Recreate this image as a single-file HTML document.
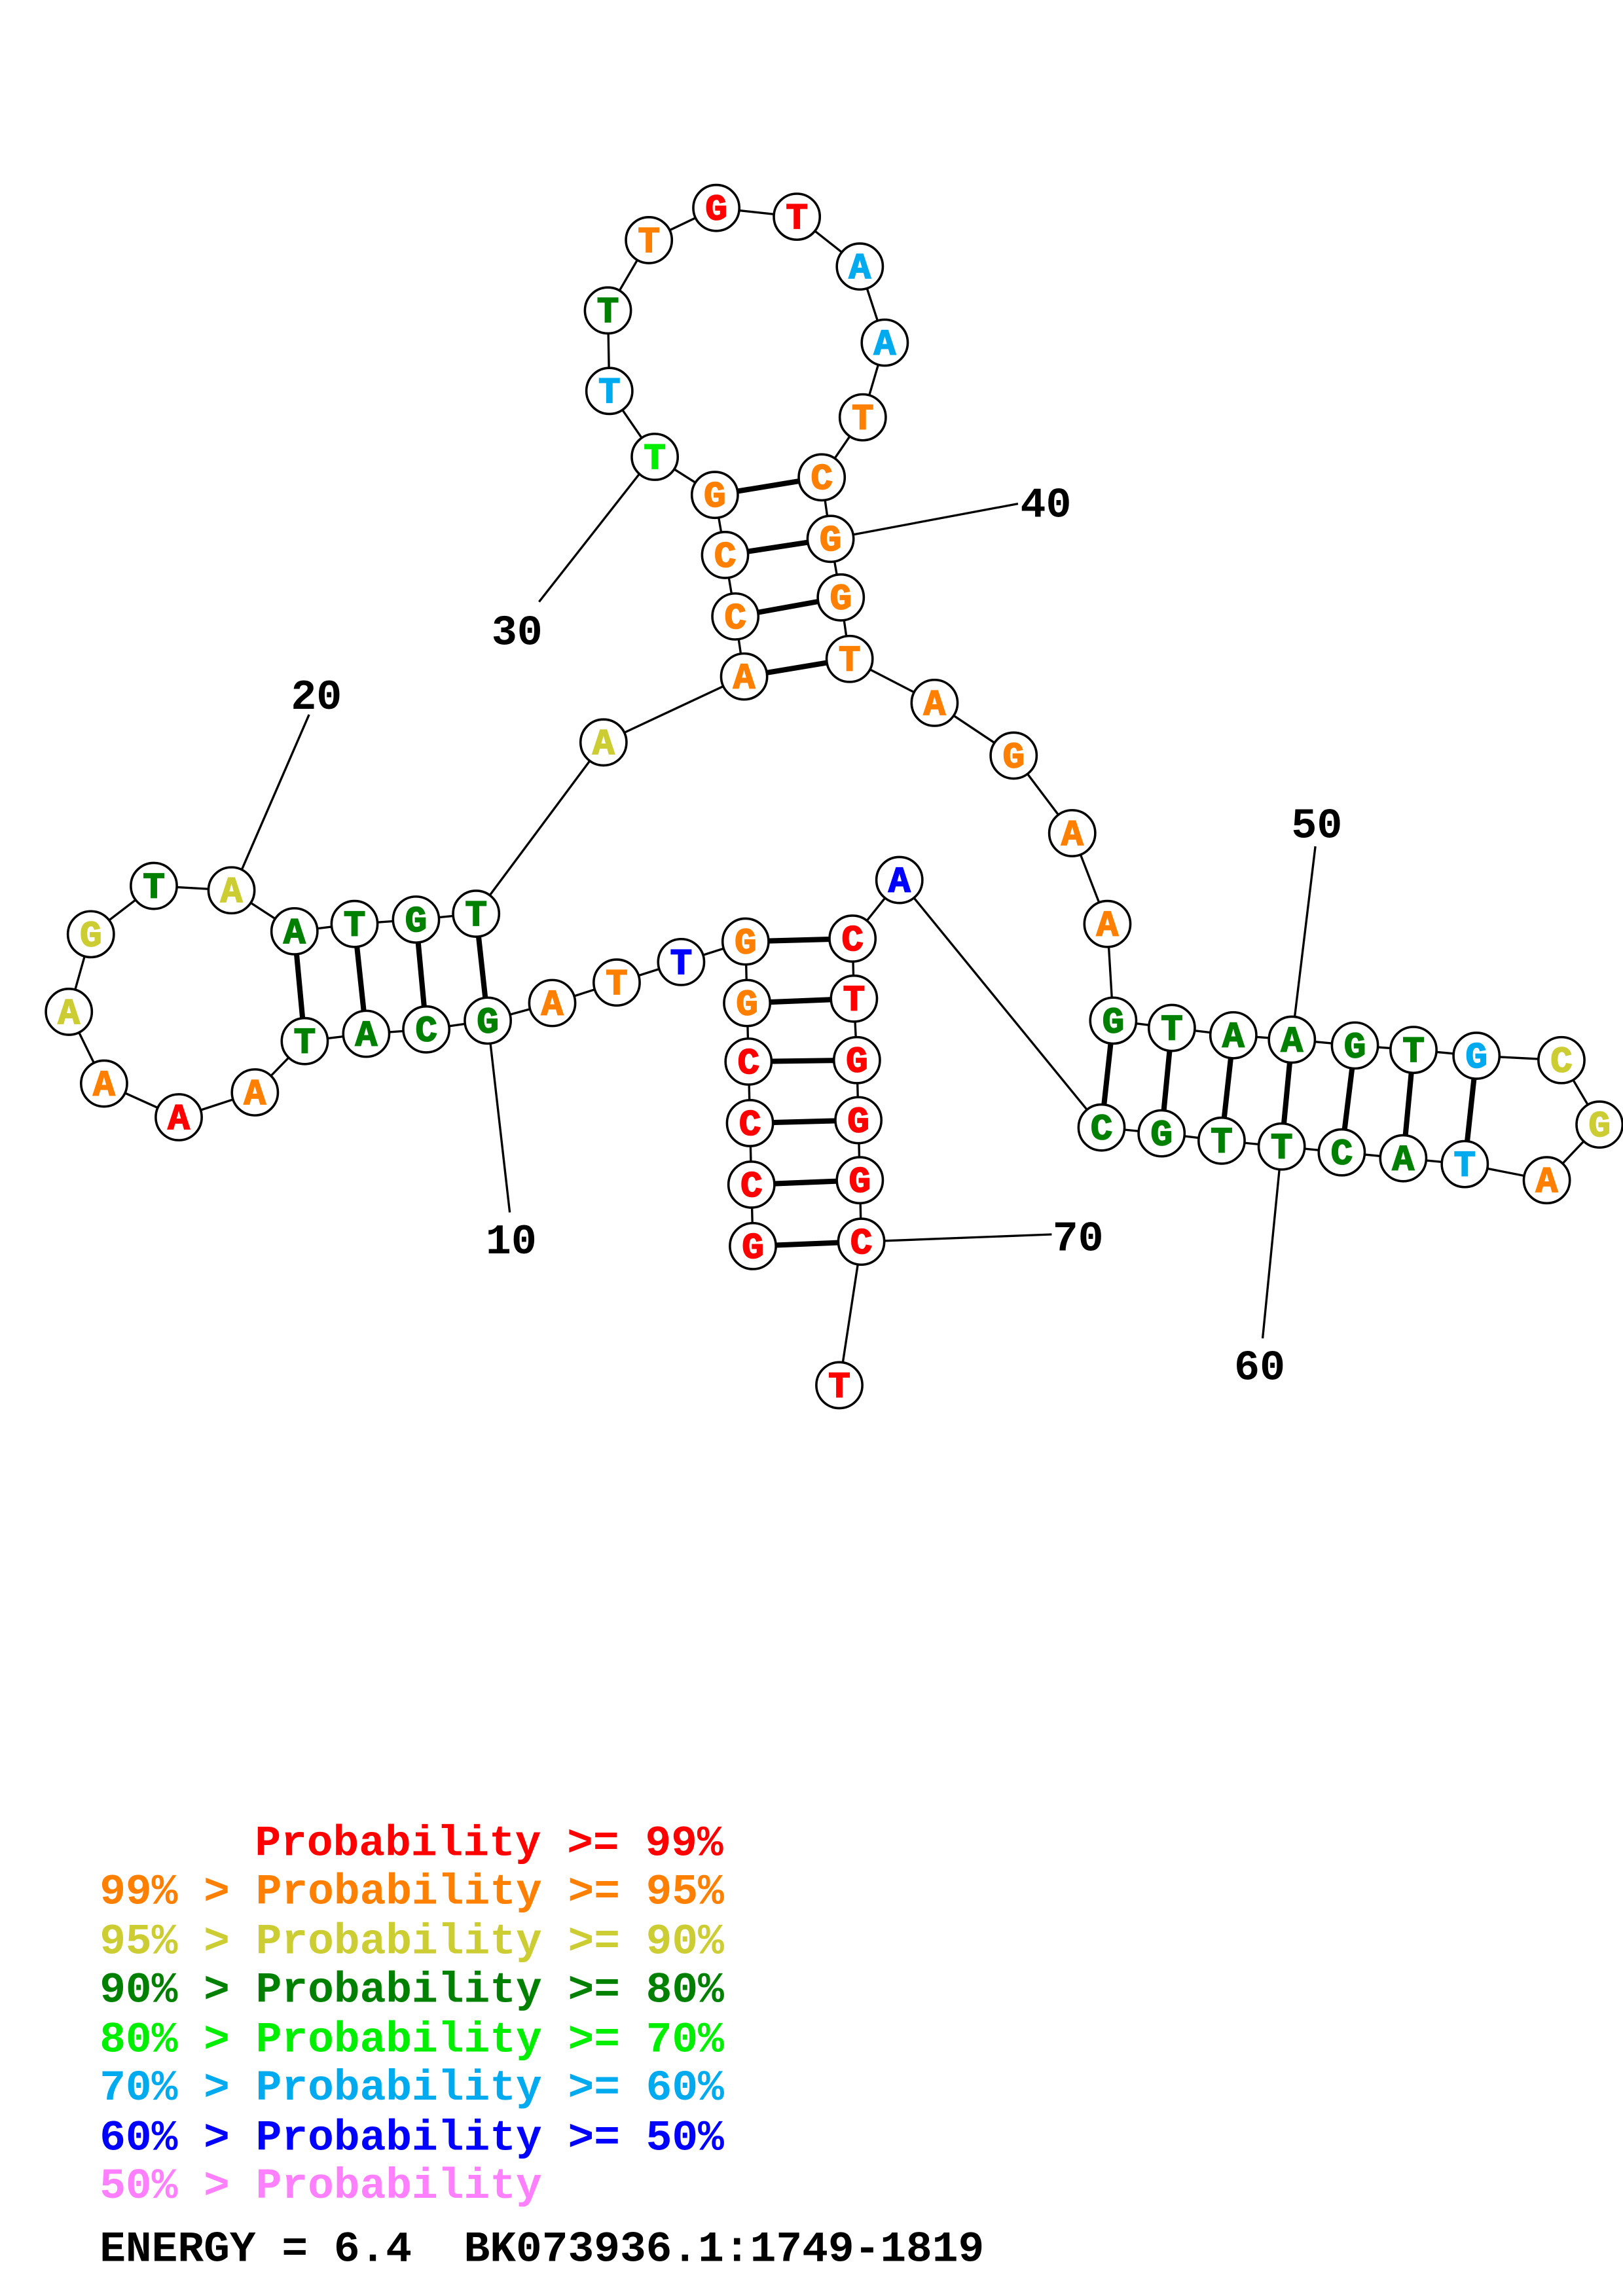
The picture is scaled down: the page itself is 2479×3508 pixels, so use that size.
<!DOCTYPE html>
<html><head><meta charset="utf-8"><style>
html,body{margin:0;padding:0;background:#fff;}
svg{display:block;}
.b text{font-family:"Liberation Mono",monospace;font-weight:bold;font-size:25px;text-anchor:middle;}
.n{font-family:"Liberation Mono",monospace;font-weight:bold;font-size:29px;fill:#000;text-anchor:middle;}
.lg text{font-family:"Liberation Mono",monospace;font-weight:bold;font-size:29.6px;white-space:pre;}
</style></head><body>
<svg width="2479" height="3508" viewBox="0 0 1108 1568" xmlns="http://www.w3.org/2000/svg">
<rect width="1108" height="1568" fill="#fff"/>
<g stroke="#000" stroke-width="1.5" fill="none">
<polyline points="514,851 513,809 512,767 511,725 510,685 509,643 465,657 421,671 377,685 333,697 291,703 250,706 208,711 174,746 122,763 71,740 47,691 62,638 105,605 158,608 201,636 242,631 284,628 325,624 412,507 508,462 502,421 495,379 488,338 447,312 416,267 415,212 443,164 489,142 544,148 587,182 604,234 589,285 561,326 567,368 574,408 580,450 638,480 692,516 732,569 756,631 760,697 800,702 842,707 882,710 925,714 965,717 1008,721 1066,724 1092,768 1056,806 1000,795 958,791 916,787 875,783 834,779 793,774 752,770 614,601 582,641 583,682 585,724 586,765 587,806 588,848 573,946"/>
<line x1="333" y1="697" x2="348" y2="828"/>
<line x1="165" y1="594" x2="211" y2="488"/>
<line x1="437" y1="323" x2="368" y2="411"/>
<line x1="567" y1="368" x2="695" y2="344"/>
<line x1="882" y1="710" x2="898" y2="578"/>
<line x1="875" y1="783" x2="862" y2="914"/>
<line x1="588" y1="848" x2="718" y2="843"/>
</g>
<g stroke="#000" stroke-width="3.6">
<line x1="514" y1="851" x2="588" y2="848"/><line x1="513" y1="809" x2="587" y2="806"/><line x1="512" y1="767" x2="586" y2="765"/><line x1="511" y1="725" x2="585" y2="724"/><line x1="510" y1="685" x2="583" y2="682"/><line x1="509" y1="643" x2="582" y2="641"/>
<line x1="333" y1="697" x2="325" y2="624"/><line x1="291" y1="703" x2="284" y2="628"/><line x1="250" y1="706" x2="242" y2="631"/><line x1="208" y1="711" x2="201" y2="636"/>
<line x1="508" y1="462" x2="580" y2="450"/><line x1="502" y1="421" x2="574" y2="408"/><line x1="495" y1="379" x2="567" y2="368"/><line x1="488" y1="338" x2="561" y2="326"/>
<line x1="760" y1="697" x2="752" y2="770"/><line x1="800" y1="702" x2="793" y2="774"/><line x1="842" y1="707" x2="834" y2="779"/><line x1="882" y1="710" x2="875" y2="783"/><line x1="925" y1="714" x2="916" y2="787"/><line x1="965" y1="717" x2="958" y2="791"/><line x1="1008" y1="721" x2="1000" y2="795"/>
</g>
<g class="b" stroke-width="1.6">
<g stroke="#000" fill="#fff">
<circle cx="514" cy="851" r="15.7"/><circle cx="513" cy="809" r="15.7"/><circle cx="512" cy="767" r="15.7"/><circle cx="511" cy="725" r="15.7"/><circle cx="510" cy="685" r="15.7"/><circle cx="509" cy="643" r="15.7"/><circle cx="465" cy="657" r="15.7"/><circle cx="421" cy="671" r="15.7"/><circle cx="377" cy="685" r="15.7"/><circle cx="333" cy="697" r="15.7"/><circle cx="291" cy="703" r="15.7"/><circle cx="250" cy="706" r="15.7"/><circle cx="208" cy="711" r="15.7"/><circle cx="174" cy="746" r="15.7"/><circle cx="122" cy="763" r="15.7"/><circle cx="71" cy="740" r="15.7"/><circle cx="47" cy="691" r="15.7"/><circle cx="62" cy="638" r="15.7"/><circle cx="105" cy="605" r="15.7"/><circle cx="158" cy="608" r="15.7"/><circle cx="201" cy="636" r="15.7"/><circle cx="242" cy="631" r="15.7"/><circle cx="284" cy="628" r="15.7"/><circle cx="325" cy="624" r="15.7"/><circle cx="412" cy="507" r="15.7"/><circle cx="508" cy="462" r="15.7"/><circle cx="502" cy="421" r="15.7"/><circle cx="495" cy="379" r="15.7"/><circle cx="488" cy="338" r="15.7"/><circle cx="447" cy="312" r="15.7"/><circle cx="416" cy="267" r="15.7"/><circle cx="415" cy="212" r="15.7"/><circle cx="443" cy="164" r="15.7"/><circle cx="489" cy="142" r="15.7"/><circle cx="544" cy="148" r="15.7"/><circle cx="587" cy="182" r="15.7"/><circle cx="604" cy="234" r="15.7"/><circle cx="589" cy="285" r="15.7"/><circle cx="561" cy="326" r="15.7"/><circle cx="567" cy="368" r="15.7"/><circle cx="574" cy="408" r="15.7"/><circle cx="580" cy="450" r="15.7"/><circle cx="638" cy="480" r="15.7"/><circle cx="692" cy="516" r="15.7"/><circle cx="732" cy="569" r="15.7"/><circle cx="756" cy="631" r="15.7"/><circle cx="760" cy="697" r="15.7"/><circle cx="800" cy="702" r="15.7"/><circle cx="842" cy="707" r="15.7"/><circle cx="882" cy="710" r="15.7"/><circle cx="925" cy="714" r="15.7"/><circle cx="965" cy="717" r="15.7"/><circle cx="1008" cy="721" r="15.7"/><circle cx="1066" cy="724" r="15.7"/><circle cx="1092" cy="768" r="15.7"/><circle cx="1056" cy="806" r="15.7"/><circle cx="1000" cy="795" r="15.7"/><circle cx="958" cy="791" r="15.7"/><circle cx="916" cy="787" r="15.7"/><circle cx="875" cy="783" r="15.7"/><circle cx="834" cy="779" r="15.7"/><circle cx="793" cy="774" r="15.7"/><circle cx="752" cy="770" r="15.7"/><circle cx="614" cy="601" r="15.7"/><circle cx="582" cy="641" r="15.7"/><circle cx="583" cy="682" r="15.7"/><circle cx="585" cy="724" r="15.7"/><circle cx="586" cy="765" r="15.7"/><circle cx="587" cy="806" r="15.7"/><circle cx="588" cy="848" r="15.7"/><circle cx="573" cy="946" r="15.7"/>
</g>
<g stroke-width="0.8">
<text x="514" y="859" fill="#ff0000" stroke="#ff0000">G</text><text x="513" y="817" fill="#ff0000" stroke="#ff0000">C</text><text x="512" y="775" fill="#ff0000" stroke="#ff0000">C</text><text x="511" y="733" fill="#ff0000" stroke="#ff0000">C</text><text x="510" y="693" fill="#ff8000" stroke="#ff8000">G</text><text x="509" y="651" fill="#ff8000" stroke="#ff8000">G</text><text x="465" y="665" fill="#0000ff" stroke="#0000ff">T</text><text x="421" y="679" fill="#ff8000" stroke="#ff8000">T</text><text x="377" y="693" fill="#ff8000" stroke="#ff8000">A</text><text x="333" y="705" fill="#008000" stroke="#008000">G</text><text x="291" y="711" fill="#008000" stroke="#008000">C</text><text x="250" y="714" fill="#008000" stroke="#008000">A</text><text x="208" y="719" fill="#008000" stroke="#008000">T</text><text x="174" y="754" fill="#ff8000" stroke="#ff8000">A</text><text x="122" y="771" fill="#ff0000" stroke="#ff0000">A</text><text x="71" y="748" fill="#ff8000" stroke="#ff8000">A</text><text x="47" y="699" fill="#cccc33" stroke="#cccc33">A</text><text x="62" y="646" fill="#cccc33" stroke="#cccc33">G</text><text x="105" y="613" fill="#008000" stroke="#008000">T</text><text x="158" y="616" fill="#cccc33" stroke="#cccc33">A</text><text x="201" y="644" fill="#008000" stroke="#008000">A</text><text x="242" y="639" fill="#008000" stroke="#008000">T</text><text x="284" y="636" fill="#008000" stroke="#008000">G</text><text x="325" y="632" fill="#008000" stroke="#008000">T</text><text x="412" y="515" fill="#cccc33" stroke="#cccc33">A</text><text x="508" y="470" fill="#ff8000" stroke="#ff8000">A</text><text x="502" y="429" fill="#ff8000" stroke="#ff8000">C</text><text x="495" y="387" fill="#ff8000" stroke="#ff8000">C</text><text x="488" y="346" fill="#ff8000" stroke="#ff8000">G</text><text x="447" y="320" fill="#00ee00" stroke="#00ee00">T</text><text x="416" y="275" fill="#00aaee" stroke="#00aaee">T</text><text x="415" y="220" fill="#008000" stroke="#008000">T</text><text x="443" y="172" fill="#ff8000" stroke="#ff8000">T</text><text x="489" y="150" fill="#ff0000" stroke="#ff0000">G</text><text x="544" y="156" fill="#ff0000" stroke="#ff0000">T</text><text x="587" y="190" fill="#00aaee" stroke="#00aaee">A</text><text x="604" y="242" fill="#00aaee" stroke="#00aaee">A</text><text x="589" y="293" fill="#ff8000" stroke="#ff8000">T</text><text x="561" y="334" fill="#ff8000" stroke="#ff8000">C</text><text x="567" y="376" fill="#ff8000" stroke="#ff8000">G</text><text x="574" y="416" fill="#ff8000" stroke="#ff8000">G</text><text x="580" y="458" fill="#ff8000" stroke="#ff8000">T</text><text x="638" y="488" fill="#ff8000" stroke="#ff8000">A</text><text x="692" y="524" fill="#ff8000" stroke="#ff8000">G</text><text x="732" y="577" fill="#ff8000" stroke="#ff8000">A</text><text x="756" y="639" fill="#ff8000" stroke="#ff8000">A</text><text x="760" y="705" fill="#008000" stroke="#008000">G</text><text x="800" y="710" fill="#008000" stroke="#008000">T</text><text x="842" y="715" fill="#008000" stroke="#008000">A</text><text x="882" y="718" fill="#008000" stroke="#008000">A</text><text x="925" y="722" fill="#008000" stroke="#008000">G</text><text x="965" y="725" fill="#008000" stroke="#008000">T</text><text x="1008" y="729" fill="#00aaee" stroke="#00aaee">G</text><text x="1066" y="732" fill="#cccc33" stroke="#cccc33">C</text><text x="1092" y="776" fill="#cccc33" stroke="#cccc33">G</text><text x="1056" y="814" fill="#ff8000" stroke="#ff8000">A</text><text x="1000" y="803" fill="#00aaee" stroke="#00aaee">T</text><text x="958" y="799" fill="#008000" stroke="#008000">A</text><text x="916" y="795" fill="#008000" stroke="#008000">C</text><text x="875" y="791" fill="#008000" stroke="#008000">T</text><text x="834" y="787" fill="#008000" stroke="#008000">T</text><text x="793" y="782" fill="#008000" stroke="#008000">G</text><text x="752" y="778" fill="#008000" stroke="#008000">C</text><text x="614" y="609" fill="#0000ff" stroke="#0000ff">A</text><text x="582" y="649" fill="#ff0000" stroke="#ff0000">C</text><text x="583" y="690" fill="#ff0000" stroke="#ff0000">T</text><text x="585" y="732" fill="#ff0000" stroke="#ff0000">G</text><text x="586" y="773" fill="#ff0000" stroke="#ff0000">G</text><text x="587" y="814" fill="#ff0000" stroke="#ff0000">G</text><text x="588" y="856" fill="#ff0000" stroke="#ff0000">C</text><text x="573" y="954" fill="#ff0000" stroke="#ff0000">T</text>
</g>
</g>
<text class="n" x="349" y="856">10</text>
<text class="n" x="216" y="484">20</text>
<text class="n" x="353" y="440">30</text>
<text class="n" x="714" y="353">40</text>
<text class="n" x="899" y="572">50</text>
<text class="n" x="860" y="942">60</text>
<text class="n" x="736" y="854">70</text>
<g class="lg">
<text x="174" y="1267" fill="#ff0000">Probability &gt;= 99%</text>
<text x="68" y="1300" fill="#ff8000">99% &gt; Probability &gt;= 95%</text>
<text x="68" y="1334" fill="#cccc33">95% &gt; Probability &gt;= 90%</text>
<text x="68" y="1367" fill="#008000">90% &gt; Probability &gt;= 80%</text>
<text x="68" y="1401" fill="#00ee00">80% &gt; Probability &gt;= 70%</text>
<text x="68" y="1434" fill="#00aaee">70% &gt; Probability &gt;= 60%</text>
<text x="68" y="1468" fill="#0000ff">60% &gt; Probability &gt;= 50%</text>
<text x="68" y="1501" fill="#ff80ff">50% &gt; Probability</text>
<text x="68" y="1544" fill="#000">ENERGY = 6.4  BK073936.1:1749-1819</text>
</g>
</svg>
</body></html>
